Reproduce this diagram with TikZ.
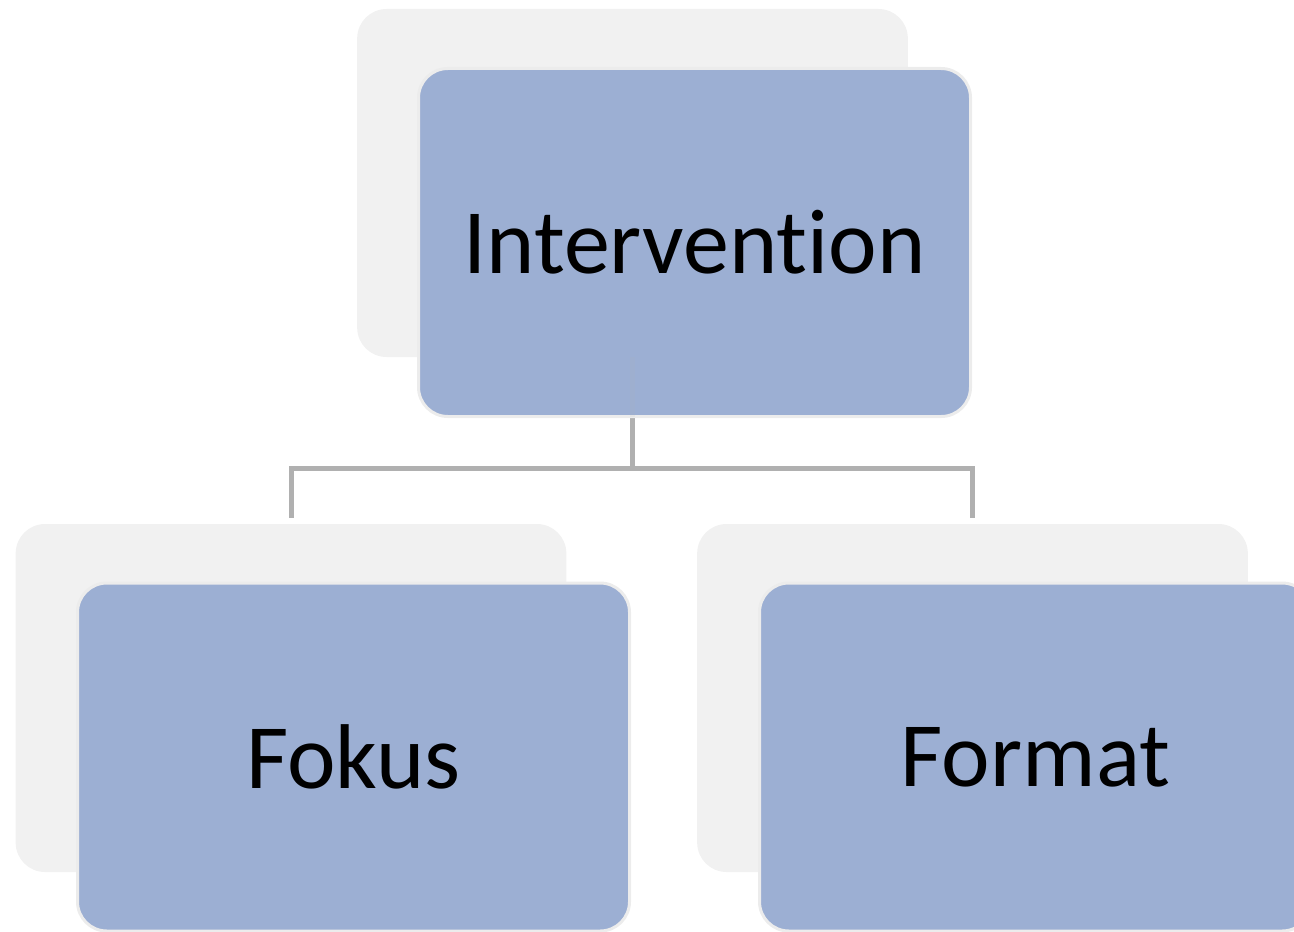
\documentclass[tikz,border=0pt]{standalone}
\usepackage{fontspec}
\setmainfont{Carlito}[Ligatures={NoCommon}]
\definecolor{shadowgray}{HTML}{F1F1F1}
\definecolor{boxblue}{HTML}{9CAFD3}
\definecolor{boxedge}{HTML}{ECECEC}
\definecolor{linegray}{HTML}{B0B0B0}
\begin{document}
\begin{tikzpicture}[x=0.75pt,y=-0.75pt,
  shadowbox/.style={rectangle, rounded corners=22pt, fill=shadowgray, draw=none,
    minimum width=413pt, minimum height=261pt, inner sep=0pt, outer sep=0pt},
  bluebox/.style={rectangle, rounded corners=22pt, fill=boxblue,
    draw=boxedge, line width=2.25pt,
    minimum width=414pt, minimum height=261pt, inner sep=0pt, outer sep=0pt,
    font=\fontsize{69}{80}\selectfont, text=black},
  conn/.style={draw=linegray, line width=3.75pt}]
\useasboundingbox (0,0) rectangle (1294,931);
% shadow boxes
\node[shadowbox] (topg) at (632.5,183) {};
\node[shadowbox] (leftg) at (291,698) {};
\node[shadowbox] (rightg) at (972.5,698) {};
% connectors
\coordinate (j) at (632.5,468);
\draw[conn, shorten >=4.5pt] (topg.south) -- (j) -| (leftg.north);
\draw[conn, shorten >=4.5pt] (j) -| (rightg.north);
% blue boxes
\node[bluebox] (top) at (694.5,242.5) {Intervention};
\node[bluebox] (left) at (353.5,757) {Fokus};
\node[bluebox] (right) at (1035.5,757) {Format};
% faint trace of the connector seen through the top box
\draw[conn, draw opacity=0.1] (topg.south) -- (topg.south |- top.south);
\end{tikzpicture}
\end{document}
